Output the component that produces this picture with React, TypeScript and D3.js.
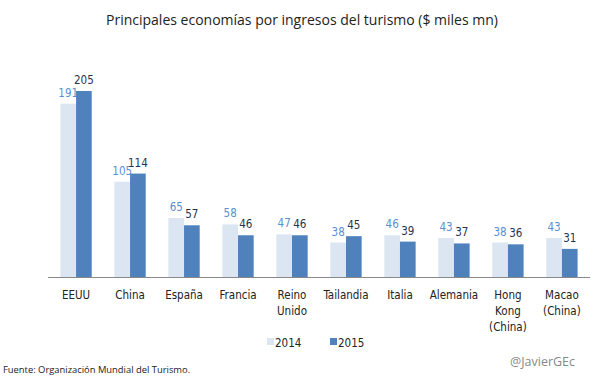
import React from "react";
import * as d3 from "d3";

const categories = ["EEUU", "China", "España", "Francia", "Reino\nUnido", "Tailandia", "Italia", "Alemania", "Hong\nKong\n(China)", "Macao\n(China)"];
const values2014 = [191, 105, 65, 58, 47, 38, 46, 43, 38, 43];
const values2015 = [205, 114, 57, 46, 46, 45, 39, 37, 36, 31];
const seriesNames = ["2014", "2015"];

const W = 605, H = 378;
const baseY = 277;
const left = 48, right = 590;
const C14 = "#dce6f2";
const C15 = "#4f81bd";
const L14 = "#5b8fcf";
const L15 = "#1f3550";
const FONT = "Tahoma, 'DejaVu Sans Condensed', 'DejaVu Sans', sans-serif";

export default function App() {
  const x = d3.scaleBand<number>().domain(d3.range(categories.length)).range([left, right]).paddingInner(0.42).paddingOuter(0.23);
  const sub = d3.scaleBand<number>().domain([0, 1]).range([0, x.bandwidth()]);
  const y = d3.scaleLinear().domain([0, 205]).range([baseY, 91]);
  const series = [values2014, values2015];
  const colors = [C14, C15];
  const lcolors = [L14, L15];
  return (
    <svg width={W} height={H} style={{ position: "absolute", left: 0, top: 0, background: "#fff" }}>
      <rect width={W} height={H} fill="#fff" />
      <text x={302} y={25} textAnchor="middle" fontFamily="'Open Sans', sans-serif" fontSize={14} fill="#222">
        Principales economías por ingresos del turismo ($ miles mn)
      </text>
      {categories.map((c, i) => (
        <g key={i}>
          {series.map((s, k) => {
            const bx = (x(i) as number) + (sub(k) as number);
            const bw = sub.bandwidth();
            return (
              <g key={k}>
                <rect x={bx} y={y(s[i])} width={bw} height={baseY - y(s[i])} fill={colors[k]} />
                <text x={bx + bw / 2} y={y(s[i]) - 7} textAnchor="middle" fontFamily={FONT} fontSize={11.5} fill={lcolors[k]}>
                  {s[i]}
                </text>
              </g>
            );
          })}
          {c.split("\n").map((line, j) => (
            <text key={j} x={(x(i) as number) + x.bandwidth() / 2} y={299 + j * 16} textAnchor="middle" fontFamily={FONT} fontSize={11.5} fill="#222">
              {line}
            </text>
          ))}
        </g>
      ))}
      <line x1={left} x2={right} y1={baseY + 0.5} y2={baseY + 0.5} stroke="#888" strokeWidth={1} />
      {seriesNames.map((n, k) => (
        <g key={n}>
          <rect x={267 + k * 63} y={338} width={7} height={7} fill={colors[k]} />
          <text x={275 + k * 63} y={346.5} fontFamily={FONT} fontSize={11.5} fill="#222">{n}</text>
        </g>
      ))}
      <text x={3} y={373} fontFamily="'Open Sans', sans-serif" fontSize={9.4} fill="#222">Fuente: Organización Mundial del Turismo.</text>
      <text x={510} y={366} fontFamily="'Open Sans', sans-serif" fontSize={12.5} fill="#888">@JavierGEc</text>
    </svg>
  );
}
